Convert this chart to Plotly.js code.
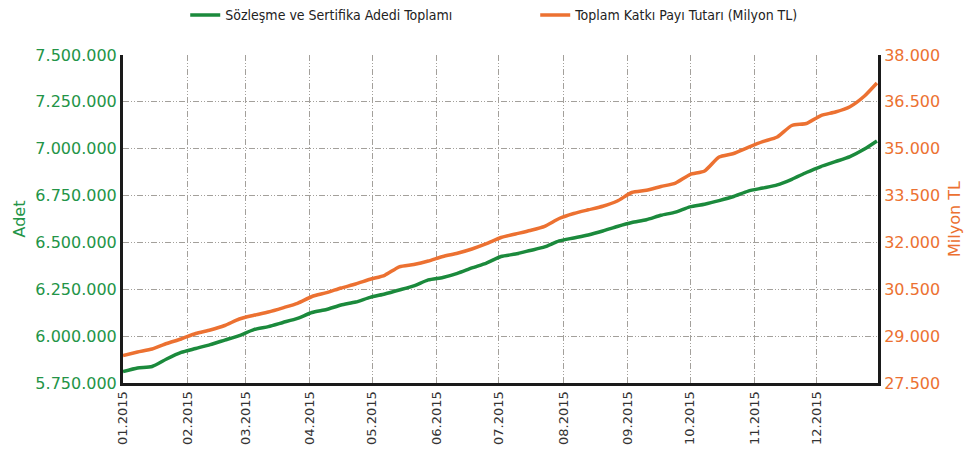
<!DOCTYPE html>
<html>
<head>
<meta charset="utf-8">
<script src="https://cdn.plot.ly/plotly-3.0.1.min.js"></script>
<style>
html,body{margin:0;padding:0;background:#fff;}
#chart{width:974px;height:452px;}
</style>
</head>
<body>
<div id="chart"></div>
<script>
var dates = ["2015-01-01","2015-01-08","2015-01-15","2015-01-22","2015-01-29","2015-02-05","2015-02-12","2015-02-19","2015-02-26",
"2015-03-05","2015-03-12","2015-03-19","2015-03-26","2015-04-02","2015-04-09","2015-04-16","2015-04-23","2015-04-30",
"2015-05-07","2015-05-14","2015-05-21","2015-05-28","2015-06-04","2015-06-11","2015-06-18","2015-06-25",
"2015-07-02","2015-07-09","2015-07-16","2015-07-23","2015-07-30","2015-08-06","2015-08-13","2015-08-20","2015-08-27",
"2015-09-03","2015-09-10","2015-09-17","2015-09-24","2015-10-01","2015-10-08","2015-10-15","2015-10-22","2015-10-29",
"2015-11-05","2015-11-12","2015-11-19","2015-11-26","2015-12-03","2015-12-10","2015-12-17","2015-12-24","2015-12-30"];

var contractCount = [5811000,5830000,5838000,5878000,5913000,5934000,5955000,5979000,6003000,
6035000,6051000,6073000,6095000,6126000,6142000,6166000,6182000,6207000,
6225000,6246000,6268000,6300000,6313000,6335000,6364000,6390000,
6425000,6438000,6457000,6476000,6508000,6524000,6540000,6561000,6585000,
6606000,6621000,6645000,6662000,6690000,6704000,6723000,6745000,6774000,
6790000,6807000,6837000,6873000,6905000,6931000,6958000,6998000,7041000];

var contributionTL = [28380,28492,28588,28764,28909,29085,29197,29341,29549,
29667,29773,29907,30051,30269,30391,30541,30669,30820,
30948,31220,31293,31405,31550,31655,31790,31959,
32158,32270,32382,32516,32766,32926,33044,33157,33326,
33598,33669,33790,33902,34174,34287,34735,34847,35042,
35224,35375,35743,35807,36063,36175,36345,36688,37104];

var seriesNames = ["Sözleşme ve Sertifika Adedi Toplamı", "Toplam Katkı Payı Tutarı (Milyon TL)"];
var leftTitle = "Adet";
var rightTitle = "Milyon TL";

var GREEN = "#1b8a3c";
var GREEN_TXT = "#239447";
var ORANGE = "#ec7131";
var GRID = "#a3a09b";
var FONT = "DejaVu Sans, Verdana, sans-serif";

var traces = [
  {x: dates, y: contractCount, name: seriesNames[0], type: "scatter", mode: "lines",
   line: {color: GREEN, width: 3.5, shape: "spline", smoothing: 0.6}, yaxis: "y"},
  {x: dates, y: contributionTL, name: seriesNames[1], type: "scatter", mode: "lines",
   line: {color: ORANGE, width: 3.5, shape: "spline", smoothing: 0.6}, yaxis: "y2"}
];

var layout = {
  width: 974, height: 452,
  margin: {l: 123, r: 96, t: 55, b: 69},
  paper_bgcolor: "#fff", plot_bgcolor: "#fff",
  separators: ",.",
  font: {family: FONT, color: "#333"},
  showlegend: true,
  legend: {orientation: "h", xref: "paper", x: 0.546, xanchor: "center",
           yref: "container", y: 0.966, yanchor: "middle",
           font: {family: "DejaVu Sans Condensed, DejaVu Sans, sans-serif", size: 14, color: "#222"},
           traceorder: "normal", entrywidth: 305},
  xaxis: {
    type: "date", range: ["2015-01-01", "2015-12-30 12:00"],
    tick0: "2015-01-01", dtick: "M1", tickformat: "%m.%Y", tickangle: -90,
    showgrid: true, gridcolor: GRID, gridwidth: 1, griddash: "6px,2px,1px,2px,1px,2px",
    showline: true, linecolor: "#1a1a1a", linewidth: 3, ticks: "",
    tickfont: {family: FONT, size: 13, color: "#333"}, zeroline: false
  },
  yaxis: {
    range: [5750000, 7500000], dtick: 250000, tick0: 5750000, tickformat: ",d",
    showgrid: true, gridcolor: GRID, gridwidth: 1, griddash: "6px,2px,1px,2px,1px,2px",
    showline: true, linecolor: "#1a1a1a", linewidth: 3, ticks: "", zeroline: false,
    tickfont: {family: FONT, size: 16, color: GREEN_TXT},
    title: {text: leftTitle, font: {family: FONT, size: 16, color: GREEN_TXT}, standoff: 6}
  },
  yaxis2: {
    overlaying: "y", side: "right",
    range: [27500, 38000], dtick: 1500, tick0: 27500, tickformat: ",d",
    showgrid: false, showline: true, linecolor: "#1a1a1a", linewidth: 3, ticks: "", zeroline: false,
    tickfont: {family: FONT, size: 16, color: ORANGE},
    title: {text: rightTitle, font: {family: FONT, size: 16, color: ORANGE}, standoff: 10}
  }
};

Plotly.newPlot("chart", traces, layout, {staticPlot: true, displayModeBar: false});
</script>
</body>
</html>
